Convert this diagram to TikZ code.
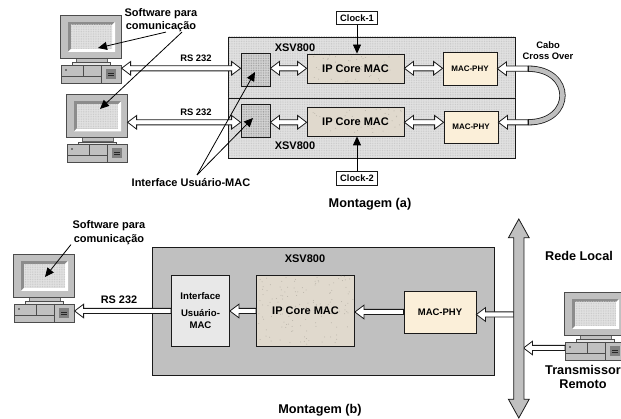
\documentclass[tikz,border=0pt]{standalone}
\usepackage{fontspec}
\setmainfont{Liberation Sans}
\usetikzlibrary{arrows.meta,patterns,shapes.arrows,calc}
\definecolor{boxgrey}{HTML}{E2E2E2}
\definecolor{ifgrey}{HTML}{D4D4D4}
\definecolor{midgrey}{HTML}{C0C0C0}
\definecolor{ipcol}{HTML}{E0D9CD}
\definecolor{phycol}{HTML}{FBEFD9}
\definecolor{ink}{HTML}{1A1A1A}
\pgfdeclarepatternformonly{finedots}{\pgfqpoint{-1pt}{-1pt}}{\pgfqpoint{1pt}{1pt}}{\pgfqpoint{1.7pt}{1.7pt}}{\pgfpathcircle{\pgfqpoint{0pt}{0pt}}{.5pt}\pgfusepath{fill}}
\newcommand{\fs}[1]{\fontsize{#1}{#1}\selectfont\bfseries}
\newcommand{\speckle}[5]{%
  \foreach \i in {1,...,#5}{%
    \pgfmathsetmacro\px{#1+rnd*(#3-#1)}%
    \pgfmathsetmacro\py{#2+rnd*(#4-#2)}%
    \fill[black!18!ipcol] (\px,\py) circle (.5);}}
% hollow block arrows, horizontal: single head at #2, or heads at both ends
\newcommand{\harrow}[2]{%
  \draw[hollow] let \p1=(#1),\p2=(#2),\n1={((\x2>\x1)*2-1)*9} in
    (\x1,\y1+2.6pt) -- (\x2-\n1,\y1+2.6pt) -- (\x2-\n1,\y1+6.8pt) -- (\x2,\y1)
    -- (\x2-\n1,\y1-6.8pt) -- (\x2-\n1,\y1-2.6pt) -- (\x1,\y1-2.6pt) -- cycle;}
\newcommand{\hbiarrow}[2]{%
  \draw[hollow] let \p1=(#1),\p2=(#2),\n1={((\x2>\x1)*2-1)*9} in
    (\x1,\y1) -- (\x1+\n1,\y1+6.8pt) -- (\x1+\n1,\y1+2.6pt) -- (\x2-\n1,\y1+2.6pt) -- (\x2-\n1,\y1+6.8pt) -- (\x2,\y1)
    -- (\x2-\n1,\y1-6.8pt) -- (\x2-\n1,\y1-2.6pt) -- (\x1+\n1,\y1-2.6pt) -- (\x1+\n1,\y1-6.8pt) -- cycle;}
\tikzset{
  block/.style={draw=ink,line width=.8pt,inner sep=0pt,align=center},
  dotted box/.style={block,preaction={fill=boxgrey},pattern=finedots,pattern color=black!22},
  dotted if/.style={block,preaction={fill=ifgrey},pattern=finedots,pattern color=black!40},
  ipbox/.style={block,fill=ipcol},
  phybox/.style={block,fill=phycol},
  label/.style={inner sep=0pt,align=center},
  hollow/.style={draw=ink,line width=.8pt,fill=white,line join=miter},
  pointer/.style={draw=black,line width=.8pt,-{Triangle[length=9pt,width=8pt]}},
}
% \computer{name}{x of monitor}{y of monitor}
\newcommand{\computer}[3]{%
  \begin{scope}[shift={(#2,#3)}]
    \fill[midgrey] (16,43) rectangle (47,50);
    \draw[black!60,line width=.5pt] (16,43) rectangle (47,47);
    \draw[black!70,line width=.5pt,fill=black!10] (12,47.5) rectangle (50,50);
    \node[draw=black!70,line width=.6pt,fill=midgrey,anchor=north west,inner sep=0pt,minimum width=61pt,minimum height=43pt] (#1) at (0,0) {};
    \fill[black!45] (8,7) -- (55,7) -- (55,37) -- (8,37) -- cycle;
    \fill[white] (55,7) -- (55,37) -- (8,37) -- (11,34) -- (52,34) -- (52,10) -- cycle;
    \fill[boxgrey] (11,10) rectangle (52,34);
    \fill[pattern=finedots,pattern color=black!22] (11,10) rectangle (52,34);
    \node[draw=black!70,line width=.6pt,fill=midgrey,anchor=north west,inner sep=0pt,minimum width=60pt,minimum height=18pt] (#1-base) at (1,50) {};
    \draw[black!70,line width=.5pt] (1,61) -- (41,61) (23,50) -- (23,61) (41,50) -- (41,68);
    \fill[black!50] (46,54) rectangle (56,64);
    \draw[black!85,line width=.6pt] (48,58) -- (54,58) (48,60) -- (54,60);
    \fill[black!55] (5,54) rectangle (7,56);
  \end{scope}}
\begin{document}
\begin{tikzpicture}[x=1pt,y=-1pt]
\path[use as bounding box] (0,0) rectangle (621,419);

% ---------- Montagem (a)
\node[dotted box,minimum width=287pt,minimum height=61pt] (boxa1) at (371.5,67.5) {};
\node[dotted box,minimum width=287pt,minimum height=60pt] (boxa2) at (371.5,128) {};
\node[dotted if,minimum width=29pt,minimum height=33pt] (if1) at (255.5,69.5) {};
\node[dotted if,minimum width=29pt,minimum height=33pt] (if2) at (255.5,120.5) {};
\node[ipbox,minimum width=97pt,minimum height=29pt] (ip1) at (355.5,68.5) {};
\speckle{309}{55}{403}{82}{40}
\node[label,font=\fs{11}] at (ip1) {IP Core MAC};
\node[ipbox,minimum width=97pt,minimum height=29pt] (ip2) at (355.5,121.5) {};
\speckle{309}{108}{403}{135}{40}
\node[label,font=\fs{11}] at (ip2) {IP Core MAC};
\node[phybox,font=\fs{8},minimum width=54pt,minimum height=33pt] (phy1) at (470,68.5) {MAC-PHY};
\node[phybox,font=\fs{8},minimum width=54pt,minimum height=32pt] (phy2) at (471,127) {MAC-PHY};
\node[block,fill=white,font=\fs{9.3},minimum width=41pt,minimum height=13pt] (clk1) at (357,18) {Clock-1};
\node[block,fill=white,font=\fs{9.3},minimum width=41pt,minimum height=14pt] (clk2) at (357,178) {Clock-2};

\computer{pc1}{60}{15}
\computer{pc2}{66}{94.5}

\coordinate (ya1) at (0,68.3);
\coordinate (ya2) at (0,122.3);
\coordinate (cab1) at (528,68.7);
\coordinate (cab2) at (528,122.3);

\hbiarrow{pc1-base.east |- ya1}{if1.west |- ya1}
\hbiarrow{pc2-base.east |- ya2}{if2.west |- ya2}
\hbiarrow{if1.east |- ya1}{ip1.west |- ya1}
\hbiarrow{if2.east |- ya2}{ip2.west |- ya2}
\hbiarrow{ip1.east |- ya1}{phy1.west |- ya1}
\hbiarrow{ip2.east |- ya2}{phy2.west |- ya2}
\harrow{cab1}{phy1.east |- cab1}
\harrow{cab2}{phy2.east |- cab2}
% cable
\draw[draw=ink,line width=.8pt,double=midgrey,double distance=4.6pt]
  (cab1) .. controls (574,68.7) and (574,122.3) .. (cab2);
\draw[ink,line width=.8pt] (528,65.7) -- (528,71.7) (528,119.3) -- (528,125.3);

\draw[pointer] (clk1.south) -- (clk1.south |- ip1.north);
\draw[pointer] (clk2.north) -- (clk2.north |- ip2.south);

\node[label,font=\fs{11}] (swa) at (161,20) {Software para\\[2.5pt]comunicação};
\node[label,font=\fs{9.4}] (rsa1) at (196,58) {RS 232};
\node[label,font=\fs{9.4}] (rsa2) at (196,112) {RS 232};
\node[label,font=\fs{11}] (xa1) at (295,48) {XSV800};
\node[label,font=\fs{11}] (xa2) at (295,146) {XSV800};
\node[label,font=\fs{11}] (ifl) at (191,183) {Interface Usuário-MAC};
\node[label,font=\fs{9.4}] (cabo) at (548,50.5) {Cabo\\[1.5pt]Cross Over};
\node[label,font=\fs{12.7}] (mona) at (370,204) {Montagem (a)};

\coordinate (tip1) at (98,48);
\coordinate (tip2) at (100,109);
\coordinate (ifs) at (197,175);
\coordinate (tip3) at (255,72);
\coordinate (tip4) at (253,118);
\draw[pointer] ([xshift=5pt]swa.south) -- (tip1);
\draw[pointer] ([xshift=21pt]swa.south) -- (tip2);
\draw[pointer] (ifs) -- (tip3);
\draw[pointer] (ifs) -- (tip4);

% ---------- Montagem (b)
\node[block,fill=midgrey,minimum width=342pt,minimum height=128pt] (boxb) at (323,311) {};
\node[block,fill=black!9,font=\fs{9.6},minimum width=58pt,minimum height=71pt] (ifb) at (200.5,310.5) {Interface\\[7pt]Usuário-\\[2pt]MAC};
\node[ipbox,minimum width=98pt,minimum height=71pt] (ipb) at (305.5,310.5) {};
\speckle{258}{276}{353}{345}{130}
\node[label,font=\fs{11}] at (ipb) {IP Core MAC};
\node[phybox,font=\fs{9.5},minimum width=72pt,minimum height=42pt] (phyb) at (440,312) {MAC-PHY};

\computer{pc3}{13}{254}
\computer{pc4}{564}{292}

\coordinate (yb1) at (0,311);
\coordinate (yb2) at (0,312);
\coordinate (busl) at (514,314.5);
\coordinate (busr) at (523.5,348);

\harrow{ifb.west |- yb1}{pc3-base.east |- yb1}
\harrow{ipb.west |- yb1}{ifb.east |- yb1}
\harrow{phyb.west |- yb2}{ipb.east |- yb2}
\harrow{busl}{phyb.east |- busl}
\harrow{pc4-base.west |- busr}{busr}

\node[draw=ink,line width=.8pt,fill=midgrey,double arrow,rotate=90,inner sep=0pt,
  minimum height=199pt,minimum width=20pt,double arrow head extend=5.25pt,
  double arrow tip angle=58] (bus) at (518.8,318.5) {\rule{0pt}{9.5pt}};

\node[label,font=\fs{11}] (swb) at (109,232.5) {Software para\\[2.5pt]comunicação};
\node[label,font=\fs{10.9}] (rsb) at (119,300) {RS 232};
\node[label,font=\fs{11}] (xb) at (305,259) {XSV800};
\node[label,font=\fs{12.7}] (rede) at (579,256) {Rede Local};
\node[label,font=\fs{12.7}] (trans) at (583,377) {Transmissor\\[1.5pt]Remoto};
\node[label,font=\fs{12.7}] (monb) at (320,410) {Montagem (b)};

\coordinate (tip5) at (45,277);
\draw[pointer] ([xshift=-38pt]swb.south) -- (tip5);
\end{tikzpicture}
\end{document}
